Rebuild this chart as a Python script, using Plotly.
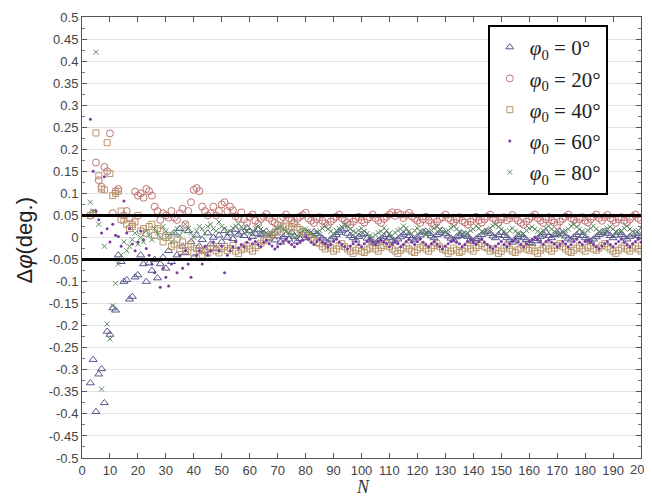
import plotly.graph_objects as go

# Sample index N (x axis)
N = list(range(3, 201))

# Delta phi values in thousandths of a degree (mdeg), N = 3..200
tri_0 = [
    -330, -277, -395, -310, -298, -375, -213, -220, -160, -165,
    -40, -55, -100, -96, -140, -134, -90, -85, -40, -60,
    -100, -58, -75, -50, -92, -60, -45, -70, -30, -55,
    10, -40, 20, -20, -35, 15, -10, -45, 5, -20,
    -5, -30, 10, -15, 0, -25, 5, -10, 15, 0,
    10, -3, 18, 7, 12, 4, 22, 15, 2, 9,
    17, 6, 9, 14, -2, 8, -6, 3, -11, 1,
    6, -4, 12, 2, -9, -3, 7, -1, 11, 4,
    13, 8, 3, -2, -7, -12, -4, 1, 6, 11,
    16, 19, 9, 4, -1, -6, 2, 7, 9, -2,
    -6, -11, -14, -8, -3, 2, 6, -1, -7, -9,
    -4, 1, 7, 11, 4, -2, -6, 1, 5, 12,
    14, 9, 3, -1, 6, 11, 16, 8, 3, -2,
    -6, 1, 4, 9, 6, 2, -4, -9, -3, 1,
    6, 12, 14, 9, 3, -1, 6, 11, 4, -1,
    -6, -11, -4, 2, 6, -1, -5, -12, -14, -8,
    -3, 2, 7, 11, 4, -1, 6, 9, 14, 8,
    3, -2, -6, 1, 6, 11, 4, -1, -5, -9,
    -4, 1, 6, 11, 14, 9, 4, -1, 5, 11,
    6, 1, -4, 2, 7, 9, 4, 1,
]

circ_20 = [
    50, 55, 170, 130, 115, 160, 150, 236, 55, 105,
    110, 40, 50, 60, 45, 30, 104, 95, 100, 90,
    110, 105, 95, 70, 60, 40, 55, 50, 45, 60,
    45, 40, 55, 65, 30, 60, 80, 108, 112, 105,
    70, 60, 50, 55, 70, 50, 60, 75, 80, 60,
    70, 62, 48, 44, 57, 41, 33, 47, 52, 38,
    31, 42, 47, 53, 44, 37, 33, 28, 41, 46,
    52, 44, 39, 33, 42, 47, 51, 56, 43, 38,
    33, 41, 46, 38, 32, 28, 36, 42, 47, 52,
    44, 38, 33, 29, 36, 42, 47, 39, 34, 41,
    46, 52, 44, 38, 33, 42, 47, 52, 57, 49,
    56, 52, 44, 51, 56, 48, 43, 38, 33, 41,
    47, 39, 33, 28, 36, 42, 46, 52, 44, 39,
    33, 41, 46, 38, 34, 29, 36, 42, 47, 39,
    34, 41, 47, 52, 44, 38, 33, 41, 46, 39,
    44, 51, 44, 38, 33, 29, 36, 42, 47, 52,
    44, 38, 33, 41, 46, 39, 34, 28, 36, 42,
    47, 52, 44, 39, 33, 41, 46, 38, 34, 41,
    47, 52, 44, 38, 46, 51, 44, 39, 33, 41,
    46, 38, 33, 41, 47, 52, 44, 39,
]

sq_40 = [
    50, 55, 237, 140, 110, 108, 215, 145, 95, 100,
    105, 60, 40, 30, 20, 25, 35, 50, 15, 20,
    10, 25, 30, 5, 20, 15, -10, 0, 5, -20,
    -15, -5, -25, -10, -30, -20, -15, -35, -25, -30,
    -40, -30, -35, -25, -20, -30, -35, -25, -20, -30,
    -25, -18, -31, -36, -28, -24, -19, -26, -31, -23,
    -18, -13, -8, -4, 2, 6, 11, 14, 19, 24,
    26, 19, 24, 31, 23, 18, 14, 9, 4, -1,
    -6, -11, -14, -21, -26, -19, -24, -31, -26, -19,
    -14, -21, -26, -31, -36, -29, -24, -31, -34, -28,
    -24, -19, -26, -31, -23, -18, -14, -21, -26, -31,
    -36, -29, -24, -19, -26, -31, -34, -28, -23, -19,
    -26, -31, -24, -18, -14, -21, -26, -29, -36, -31,
    -24, -29, -34, -31, -24, -19, -26, -31, -23, -18,
    -14, -21, -24, -31, -26, -29, -36, -31, -24, -19,
    -26, -31, -34, -28, -24, -19, -26, -29, -24, -31,
    -36, -29, -24, -19, -26, -31, -24, -18, -14, -21,
    -26, -31, -34, -29, -24, -19, -26, -31, -23, -19,
    -26, -29, -24, -18, -14, -21, -26, -31, -36, -29,
    -24, -19, -26, -31, -24, -19, -26, -31,
]

dot_60 = [
    268, 150, 60, 40, 10, 138, 20, -10, 30, 5,
    2, -20, 83, 10, 20, -15, -30, -10, 15, -5,
    -25, -40, -60, -80, -50, -113, -70, -90, -110, -60,
    -50, -80, -40, -70, -30, -60, -90, -50, -40, -30,
    -60, -20, -40, -30, -10, -50, -30, -20, -80, -40,
    -30, -21, -9, -24, -16, -21, -11, -4, -14, -9,
    -16, -21, -11, -6, -14, -19, -26, -21, -14, -9,
    -4, -11, -16, -21, -14, -9, -6, 1, -4, -11,
    -16, -9, -4, -11, -14, -21, -16, -9, -4, -11,
    -16, -21, -26, -19, -14, -9, -16, -21, -14, -9,
    -4, -11, -16, -9, -6, -11, -14, -21, -16, -9,
    -14, -21, -16, -9, -4, -11, -16, -9, -4, -11,
    -16, -21, -14, -9, -16, -21, -26, -19, -14, -9,
    -6, -11, -14, -21, -16, -9, -4, -11, -16, -9,
    -4, -11, -16, -21, -26, -19, -14, -9, -16, -21,
    -14, -9, -4, -11, -16, -21, -14, -9, -4, 1,
    -4, -11, -16, -9, -6, -11, -14, -21, -16, -9,
    -14, -21, -16, -9, -4, -11, -16, -9, -6, -11,
    -16, -21, -26, -19, -14, -9, -16, -21, -14, -9,
    -4, -11, -16, -21, -14, -9, -4, -11,
]

x_80 = [
    80, 60, 420, 30, -344, -20, -196, -230, -155, -104,
    -60, -40, -10, -30, -20, -5, 10, -15, 0, -10,
    15, 5, -5, 20, 10, 0, 25, 15, 5, -10,
    10, 20, 5, 15, 30, 20, 10, 0, 15, 25,
    20, 10, 25, 30, 20, 15, 35, 25, 20, 10,
    14, 21, 26, 31, 24, 19, 16, 9, 14, 21,
    26, 19, 14, 11, 4, 9, 16, 21, 24, 19,
    14, 11, 6, 1, 4, 11, 16, 19, 14, 9,
    6, 11, 16, 21, 26, 19, 14, 9, 16, 21,
    24, 31, 26, 19, 14, 11, 16, 21, 14, 9,
    4, 1, 6, 11, 14, 21, 16, 9, 4, 11,
    16, 19, 26, 21, 14, 9, 16, 21, 14, 11,
    6, 9, 16, 21, 24, 19, 14, 11, 16, 21,
    26, 19, 14, 9, 4, 11, 16, 19, 26, 21,
    14, 11, 16, 21, 26, 31, 24, 19, 14, 9,
    16, 21, 14, 11, 6, 9, 16, 21, 24, 19,
    14, 11, 16, 21, 26, 19, 14, 9, 4, 11,
    16, 19, 26, 31, 24, 19, 14, 11, 16, 21,
    26, 19, 14, 9, 16, 21, 24, 19, 14, 11,
    16, 21, 26, 19, 14, 9, 16, 21,
]

for _s in (tri_0, circ_20, sq_40, dot_60, x_80):
    assert len(_s) == len(N), len(_s)

series_names = ["<i>φ</i><sub>0</sub> = 0°", "<i>φ</i><sub>0</sub> = 20°",
                "<i>φ</i><sub>0</sub> = 40°", "<i>φ</i><sub>0</sub> = 60°",
                "<i>φ</i><sub>0</sub> = 80°"]
threshold = [0.05, -0.05]
y_ticks = [round(-0.5 + 0.05 * i, 2) for i in range(21)]
y_tick_text = [("%g" % v) for v in y_ticks]
x_ticks = list(range(0, 201, 10))
x_tick_text = [str(v) for v in x_ticks[:-1]] + [""]   # last label drawn as annotation

styles = [
    dict(symbol="triangle-up-open", size=7, color="#56568e", line=dict(width=1)),
    dict(symbol="circle-open", size=7, color="#c27272", line=dict(width=1)),
    dict(symbol="square-open", size=6, color="#b8946a", line=dict(width=1)),
    dict(symbol="circle", size=3, color="#7a3a9e"),
    dict(symbol="x-thin-open", size=5, color="#5e8a62", line=dict(width=1)),
]

fig = go.Figure()
for i, (name, vals, st) in enumerate(zip(series_names, [tri_0, circ_20, sq_40, dot_60, x_80], styles)):
    fig.add_trace(go.Scatter(
        x=N, y=[v / 1000 for v in vals], mode="markers", name=name,
        marker=st, legendgroup="g%d" % i,
    ))

for t in threshold:
    fig.add_shape(type="line", xref="paper", yref="y", x0=0, x1=1, y0=t, y1=t,
                  line=dict(color="black", width=3), layer="above")

tick_font = dict(family="Liberation Sans, Arial, sans-serif", size=13, color="#444444")

# axis titles placed as annotations for exact positioning
fig.add_annotation(text="Δ<i>φ</i>(deg.)", xref="paper", yref="paper", x=-0.103, y=0.494,
                   xanchor="center", yanchor="middle", textangle=-90, showarrow=False,
                   font=dict(family="Liberation Sans, Arial, sans-serif", size=22, color="#222"))
fig.add_annotation(text="<i>N</i>", xref="paper", yref="paper", x=0.503, y=-0.066,
                   xanchor="center", yanchor="middle", showarrow=False,
                   font=dict(family="Liberation Serif, Times New Roman, serif", size=18, color="#333"))
# last x tick label (partly beyond the page edge, as in the original)
fig.add_annotation(text=str(x_ticks[-1]), xref="x", yref="paper", x=x_ticks[-1], y=-0.027,
                   xanchor="center", yanchor="middle", showarrow=False, font=tick_font)

fig.update_layout(
    width=636, height=485,
    margin=dict(l=74, r=3, t=9, b=35),
    paper_bgcolor="white", plot_bgcolor="white",
    showlegend=True,
    legend=dict(
        x=0.726, y=0.982, xanchor="left", yanchor="top",
        bordercolor="black", borderwidth=2, bgcolor="white",
        font=dict(family="Liberation Serif, Times New Roman, serif", size=21, color="#222222"),
        itemwidth=30, tracegroupgap=1,
    ),
    xaxis=dict(
        range=[0, 200], tickvals=x_ticks, ticktext=x_tick_text, ticks="inside", ticklen=5,
        tickcolor="#555",
        showgrid=False, zeroline=False, showline=True, linecolor="#555", linewidth=1,
        mirror="ticks", tickfont=tick_font, automargin=False,
    ),
    yaxis=dict(
        range=[-0.5, 0.5], tickvals=y_ticks, ticktext=y_tick_text, ticks="inside", ticklen=5,
        tickcolor="#555", automargin=False,
        showgrid=True, gridcolor="#e2e2e2", gridwidth=1, zeroline=False,
        showline=True, linecolor="#555", linewidth=1, mirror="ticks", tickfont=tick_font,
        minor=dict(ticks="inside", ticklen=3, dtick=0.025, tickcolor="#777", showgrid=False),
    ),
)

fig.write_html("out.html")
